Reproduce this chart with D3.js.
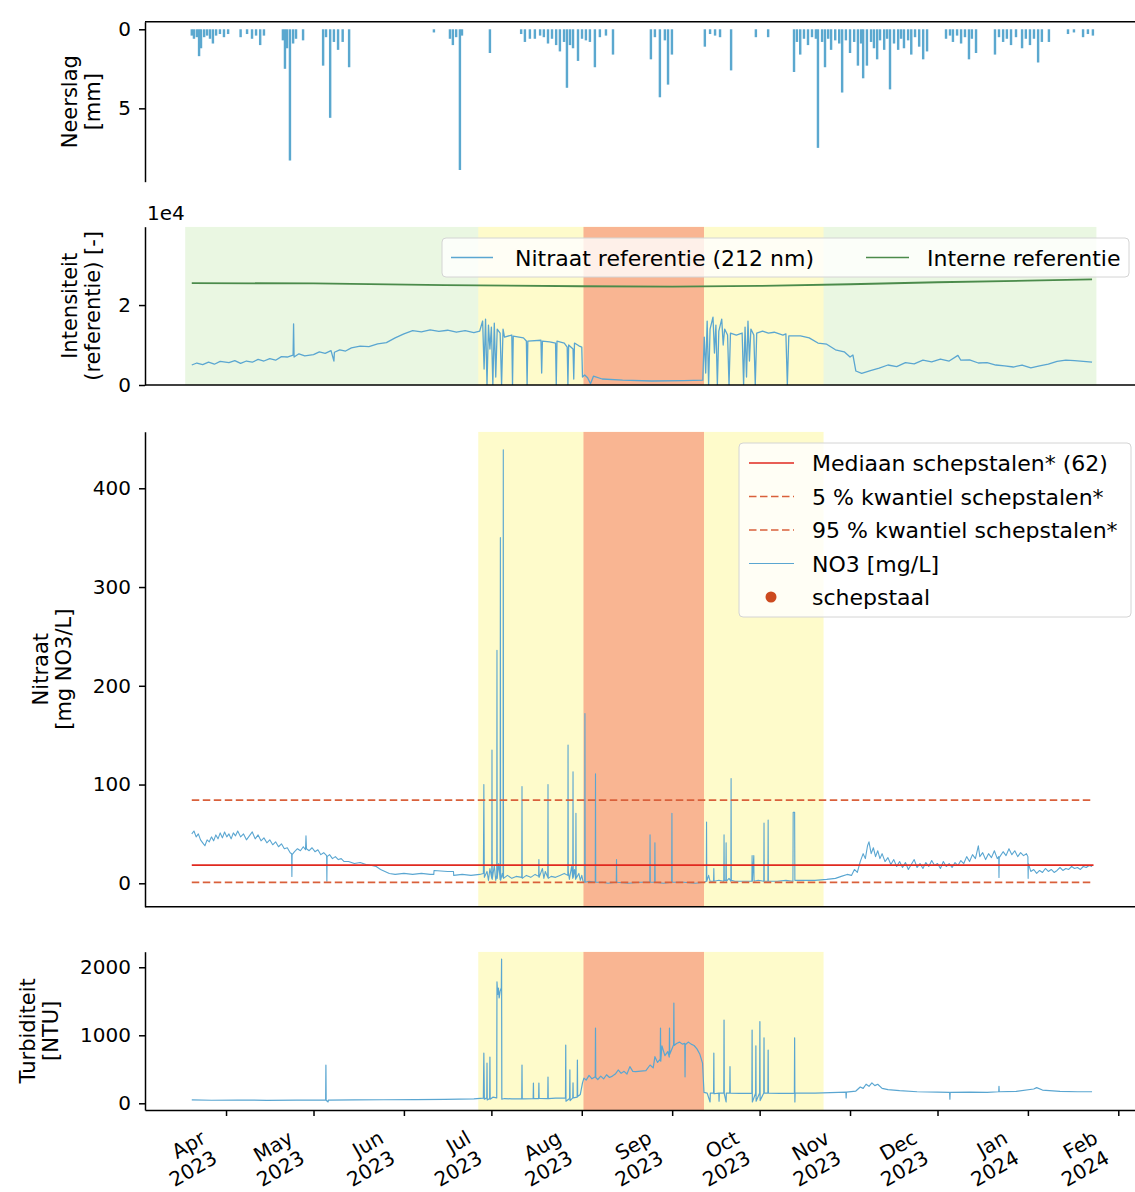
<!DOCTYPE html>
<html><head><meta charset="utf-8">
<script src="https://cdn.jsdelivr.net/npm/d3@7"></script>
<style>body{margin:0;background:#fff} svg text{font-family:"DejaVu Sans",sans-serif;fill:#000}</style>
</head><body><svg id="c" width="1135" height="1192"></svg>
<script>
// ---------------- DATA ----------------
const precipitation = [
["2023-03-20 06",0.4],["2023-03-21 00",0.6],["2023-03-22 00",0.5],["2023-03-22 18",1.7],["2023-03-23 10",1.2],["2023-03-24 12",0.5],["2023-03-25 12",0.4],["2023-03-26 12",0.6],["2023-03-27 12",0.9],["2023-03-28 14",0.4],["2023-03-29 22",0.3],["2023-03-31 07",0.5],["2023-04-01 17",0.3],
["2023-04-06 00",0.5],["2023-04-08 05",0.3],["2023-04-09 22",0.6],["2023-04-11 07",0.4],["2023-04-12 17",1.0],["2023-04-14 00",0.4],
["2023-04-20 12",0.7],["2023-04-21 05",2.5],["2023-04-21 22",1.2],["2023-04-22 22",8.3],["2023-04-24 00",0.9],["2023-04-25 00",0.6],["2023-04-27 10",0.7],
["2023-05-04 07",2.3],["2023-05-05 07",0.5],["2023-05-06 17",5.6],["2023-05-08 00",0.8],["2023-05-09 10",1.3],["2023-05-11 00",0.8],["2023-05-13 05",2.4],
["2023-06-11 07",0.2],["2023-06-16 19",0.6],["2023-06-17 19",1.0],["2023-06-18 22",0.5],["2023-06-20 05",8.9],["2023-06-20 22",0.4],["2023-06-30 12",1.5],
["2023-07-11 05",0.3],["2023-07-12 12",0.8],["2023-07-14 05",0.6],["2023-07-15 22",0.6],["2023-07-17 17",0.4],["2023-07-19 00",0.5],["2023-07-20 10",0.9],["2023-07-21 19",0.6],["2023-07-23 05",1.0],["2023-07-24 12",1.4],["2023-07-25 22",0.8],["2023-07-26 22",3.7],["2023-07-27 23",1.0],["2023-07-29 00",1.2],["2023-07-30 17",2.0],
["2023-08-01 02",0.6],["2023-08-02 10",0.7],["2023-08-03 19",0.8],["2023-08-05 12",2.4],["2023-08-07 05",0.5],["2023-08-09 07",0.4],["2023-08-11 17",1.6],
["2023-08-24 17",1.9],["2023-08-26 02",0.5],["2023-08-27 19",4.3],["2023-08-29 12",0.7],["2023-08-30 14",3.5],["2023-08-31 22",1.6],
["2023-09-12 05",1.1],["2023-09-14 00",0.3],["2023-09-15 17",0.4],["2023-09-17 10",0.5],["2023-09-21 05",2.6],["2023-09-29 17",0.5],["2023-10-03 22",0.5],
["2023-10-12 19",2.7],["2023-10-13 19",0.8],["2023-10-14 22",1.6],["2023-10-16 05",0.6],["2023-10-17 14",1.0],["2023-10-18 23",0.5],["2023-10-20 07",0.6],["2023-10-21 00",7.5],["2023-10-22 10",0.8],["2023-10-23 10",2.4],["2023-10-24 12",0.6],["2023-10-25 12",1.3],["2023-10-26 22",0.7],["2023-10-28 07",0.9],["2023-10-29 07",4.0],["2023-10-30 14",0.7],
["2023-11-01 00",1.5],["2023-11-02 10",0.8],["2023-11-03 17",2.3],["2023-11-04 19",0.9],["2023-11-05 12",3.1],["2023-11-06 19",2.3],["2023-11-08 05",0.8],["2023-11-09 05",1.2],["2023-11-10 07",1.9],["2023-11-11 07",0.7],["2023-11-12 17",1.3],["2023-11-13 17",0.6],["2023-11-14 17",3.8],["2023-11-16 02",0.9],["2023-11-17 12",1.3],["2023-11-18 12",0.6],["2023-11-19 12",1.2],["2023-11-20 22",0.7],["2023-11-22 00",1.6],["2023-11-23 07",0.5],["2023-11-24 17",1.1],["2023-11-26 02",1.9],["2023-11-27 10",1.4],
["2023-12-03 22",0.6],["2023-12-05 07",0.4],["2023-12-06 07",0.8],["2023-12-07 17",0.4],["2023-12-09 02",0.9],["2023-12-10 10",0.5],["2023-12-11 19",1.9],["2023-12-12 19",0.6],["2023-12-14 05",1.5],
["2023-12-20 17",1.6],["2023-12-22 02",0.5],["2023-12-23 12",0.8],["2023-12-24 19",0.6],["2023-12-26 05",1.0],["2023-12-27 22",0.5],["2023-12-30 00",1.2],["2023-12-31 07",0.6],["2024-01-01 17",1.0],["2024-01-03 02",0.6],["2024-01-04 12",2.1],["2024-01-05 19",0.8],["2024-01-08 05",0.8],
["2024-01-14 18",0.3],["2024-01-16 19",0.2],["2024-01-19 22",0.5],["2024-01-21 14",0.3],["2024-01-23 07",0.4]
];

const intensityNitrateRef = [
["2023-03-20 06",5000],["2023-03-22 00",5500],["2023-03-24 00",5100],["2023-03-26 00",5700],["2023-03-28 00",5200],["2023-03-30 00",5900],["2023-04-02 00",5600],["2023-04-04 00",6100],["2023-04-06 00",5400],["2023-04-08 00",6000],["2023-04-10 00",5700],["2023-04-12 00",6400],["2023-04-14 00",6000],["2023-04-16 00",6600],["2023-04-18 00",6200],["2023-04-20 00",7100],["2023-04-22 00",7000],["2023-04-24 00",7500],["2023-04-24 04",15300],["2023-04-24 08",7000],["2023-04-26 00",7800],["2023-04-28 00",7300],["2023-05-01 00",7600],["2023-05-03 00",8300],["2023-05-05 00",7900],["2023-05-07 00",8600],["2023-05-08 00",6000],["2023-05-08 04",8200],["2023-05-10 00",8800],["2023-05-12 00",8500],["2023-05-14 00",9300],["2023-05-17 00",9700],["2023-05-20 00",9600],["2023-05-23 00",10300],["2023-05-26 00",10600],["2023-05-29 00",11800],["2023-06-01 00",12800],["2023-06-04 00",13600],["2023-06-07 00",13300],["2023-06-10 00",13800],["2023-06-13 00",13400],["2023-06-16 00",13700],["2023-06-19 00",13200],["2023-06-22 00",13600],["2023-06-25 00",13100],
["2023-06-27 00",13500],["2023-06-28 00",16000],["2023-06-28 12",4000],["2023-06-29 00",16500],["2023-06-29 12",0],["2023-06-30 00",15000],["2023-06-30 12",9000],["2023-07-01 00",14500],["2023-07-01 12",0],["2023-07-02 00",15500],["2023-07-02 12",2000],["2023-07-03 00",14000],["2023-07-04 00",13000],["2023-07-04 12",0],["2023-07-05 00",14000],["2023-07-05 12",12000],["2023-07-08 00",12500],["2023-07-08 06",0],["2023-07-08 12",12200],["2023-07-12 00",11800],["2023-07-13 00",11000],["2023-07-13 06",0],["2023-07-13 12",11000],["2023-07-18 00",11200],["2023-07-18 06",3000],["2023-07-18 12",11000],["2023-07-21 00",10800],["2023-07-23 00",10500],["2023-07-23 06",0],["2023-07-23 12",11000],["2023-07-26 00",10500],["2023-07-27 00",9500],["2023-07-27 06",0],["2023-07-27 12",10000],["2023-07-29 00",9000],["2023-07-29 06",1500],["2023-07-29 12",10500],["2023-07-31 00",9800],["2023-08-01 00",9500],["2023-08-01 06",2000],
["2023-08-02 00",2500],["2023-08-03 00",1800],["2023-08-04 00",300],["2023-08-05 00",2200],["2023-08-08 00",1500],["2023-08-15 00",1200],["2023-08-25 00",1000],["2023-09-05 00",1100],["2023-09-11 12",1200],
["2023-09-12 00",12000],["2023-09-12 12",3000],["2023-09-13 00",16000],["2023-09-13 12",0],["2023-09-14 00",14000],["2023-09-15 00",17000],["2023-09-15 12",8000],["2023-09-16 00",15000],["2023-09-16 12",0],["2023-09-17 00",13500],["2023-09-18 00",16500],["2023-09-18 12",10000],["2023-09-19 00",14000],["2023-09-20 00",12500],["2023-09-20 12",0],["2023-09-21 00",13000],["2023-09-23 00",12500],["2023-09-25 00",13000],["2023-09-25 12",0],["2023-09-26 00",14500],["2023-09-26 12",2000],["2023-09-27 00",16000],["2023-09-27 12",6000],["2023-09-28 00",14000],["2023-09-29 00",12500],["2023-09-29 12",0],["2023-09-30 00",13000],["2023-10-02 00",13500],["2023-10-04 00",13000],["2023-10-06 00",13200],["2023-10-09 00",12500],["2023-10-10 00",12800],["2023-10-10 12",0],["2023-10-11 00",12300],["2023-10-15 00",12300],["2023-10-18 00",11800],["2023-10-21 00",10500],["2023-10-24 00",10200],["2023-10-27 00",8800],["2023-10-30 00",8300],["2023-11-01 00",7000],["2023-11-02 00",7500],["2023-11-03 00",3500],["2023-11-05 00",2900],["2023-11-08 00",3600],["2023-11-11 00",4200],["2023-11-14 00",5000],["2023-11-17 00",4600],["2023-11-20 00",5600],["2023-11-23 00",5300],["2023-11-26 00",6200],["2023-11-29 00",5800],["2023-12-02 00",6500],["2023-12-05 00",6000],["2023-12-08 00",7400],["2023-12-09 00",6200],["2023-12-12 00",6300],["2023-12-15 00",5500],["2023-12-18 00",5600],["2023-12-21 00",5000],["2023-12-24 00",4800],["2023-12-27 00",4500],["2023-12-30 00",5000],["2024-01-02 00",4300],["2024-01-05 00",4800],["2024-01-08 00",5200],["2024-01-11 00",5900],["2024-01-14 00",6200],["2024-01-17 00",6100],["2024-01-20 00",5900],["2024-01-23 00",5700]
];

const intensityInternalRef = [
["2023-03-20 06",25500],["2023-05-01 00",25400],["2023-06-15 00",25000],["2023-08-01 00",24700],["2023-09-01 00",24600],["2023-10-01 00",24800],["2023-11-01 00",25200],["2023-12-01 00",25700],["2024-01-01 00",26100],["2024-01-23 00",26400]
];

const nitrate = [
["2023-03-20 06",50],["2023-03-21 00",53],["2023-03-21 18",47],["2023-03-22 12",50],["2023-03-23 06",44],["2023-03-24 00",41],["2023-03-24 18",38],["2023-03-25 12",44],["2023-03-26 06",42],["2023-03-27 00",47],["2023-03-27 18",43],["2023-03-28 12",49],["2023-03-29 06",45],["2023-03-30 00",51],["2023-03-30 18",46],["2023-03-31 12",52],["2023-04-01 06",47],["2023-04-02 00",50],["2023-04-02 18",45],["2023-04-03 12",51],["2023-04-04 06",48],["2023-04-05 00",53],["2023-04-06 00",47],["2023-04-07 00",50],["2023-04-08 00",44],["2023-04-09 00",48],["2023-04-10 00",52],["2023-04-11 00",45],["2023-04-12 00",49],["2023-04-13 00",43],["2023-04-14 00",46],["2023-04-15 00",41],["2023-04-16 00",44],["2023-04-17 00",39],["2023-04-18 00",42],["2023-04-19 00",37],["2023-04-20 00",40],["2023-04-21 00",35],["2023-04-22 00",36],["2023-04-23 00",31],["2023-04-23 12",30],["2023-04-23 14",7],["2023-04-23 16",29],["2023-04-24 12",32],["2023-04-25 12",35],["2023-04-26 12",33],["2023-04-27 12",37],["2023-04-28 06",34],["2023-04-28 10",48],["2023-04-28 14",35],["2023-04-29 12",33],["2023-04-30 12",36],["2023-05-01 12",32],["2023-05-02 12",34],["2023-05-03 12",29],["2023-05-04 12",31],["2023-05-05 12",28],["2023-05-05 14",2],["2023-05-05 16",27],["2023-05-06 12",29],["2023-05-07 12",25],["2023-05-08 12",27],["2023-05-09 12",24],["2023-05-10 12",25],["2023-05-11 12",22],["2023-05-13 00",22],["2023-05-15 00",20],["2023-05-17 00",21],["2023-05-19 00",19],["2023-05-21 00",18],["2023-05-22 12",17],["2023-05-24 00",14],["2023-05-25 12",12],["2023-05-27 00",10],["2023-05-29 00",9],["2023-06-01 00",10],["2023-06-04 00",9],["2023-06-07 00",10],["2023-06-10 00",9],["2023-06-11 06",9],["2023-06-11 08",13],["2023-06-16 00",12],["2023-06-18 00",12],["2023-06-18 02",8],["2023-06-21 00",9],["2023-06-24 00",8],["2023-06-27 00",9],
["2023-06-28 06",10],["2023-06-28 10",100],["2023-06-28 14",6],["2023-06-29 12",12],["2023-06-30 00",3],["2023-06-30 12",15],["2023-07-01 03",5],["2023-07-01 05",135],["2023-07-01 07",4],["2023-07-02 00",18],["2023-07-02 12",3],["2023-07-02 20",8],["2023-07-02 22",236],["2023-07-03 00",5],["2023-07-03 12",20],["2023-07-04 00",4],["2023-07-04 02",350],["2023-07-04 04",3],["2023-07-04 18",10],["2023-07-05 00",6],["2023-07-05 02",439],["2023-07-05 04",5],["2023-07-06 12",8],["2023-07-08 00",5],["2023-07-09 12",7],["2023-07-11 10",6],["2023-07-11 12",98],["2023-07-11 14",5],["2023-07-13 00",8],["2023-07-14 12",6],["2023-07-16 00",9],["2023-07-17 05",7],["2023-07-17 07",24],["2023-07-17 09",6],["2023-07-18 12",15],["2023-07-19 00",5],["2023-07-19 12",12],["2023-07-20 08",6],["2023-07-20 10",100],["2023-07-20 12",5],["2023-07-21 12",7],["2023-07-23 00",6],["2023-07-24 12",8],["2023-07-26 00",10],["2023-07-27 05",8],["2023-07-27 07",140],["2023-07-27 09",12],["2023-07-27 18",4],["2023-07-28 12",17],["2023-07-28 22",5],["2023-07-29 00",113],["2023-07-29 02",6],["2023-07-29 12",14],["2023-07-29 22",4],["2023-07-30 00",71],["2023-07-30 02",5],["2023-07-31 00",10],["2023-07-31 12",3],["2023-08-01 00",8],
["2023-08-01 12",1],["2023-08-02 00",1],["2023-08-02 02",172],["2023-08-02 04",1],["2023-08-03 12",2],["2023-08-05 15",1],["2023-08-05 17",111],["2023-08-05 19",1],["2023-08-08 00",1],["2023-08-10 00",0],["2023-08-12 20",1],["2023-08-12 22",24],["2023-08-13 00",1],["2023-08-17 00",0],["2023-08-21 00",1],["2023-08-24 08",1],["2023-08-24 10",49],["2023-08-24 12",1],["2023-08-26 00",1],["2023-08-26 02",41],["2023-08-26 04",1],["2023-08-29 00",0],["2023-08-31 20",1],["2023-08-31 22",71],["2023-09-01 00",1],["2023-09-05 00",1],["2023-09-09 00",0],["2023-09-12 00",1],
["2023-09-12 17",2],["2023-09-12 19",62],["2023-09-12 21",2],["2023-09-13 12",8],["2023-09-14 00",2],["2023-09-15 05",2],["2023-09-15 07",15],["2023-09-15 09",2],["2023-09-17 00",3],["2023-09-18 17",2],["2023-09-18 19",49],["2023-09-18 21",3],["2023-09-19 10",3],["2023-09-19 12",41],["2023-09-19 14",2],["2023-09-20 12",5],["2023-09-21 03",2],["2023-09-21 05",106],["2023-09-21 07",3],["2023-09-22 12",2],["2023-09-25 00",2],["2023-09-28 08",2],["2023-09-28 10",28],["2023-09-28 12",2],["2023-09-29 00",28],["2023-09-29 02",2],["2023-09-30 12",3],["2023-10-02 10",2],["2023-10-02 12",61],["2023-10-02 14",2],["2023-10-03 20",2],["2023-10-03 22",64],["2023-10-04 00",2],["2023-10-07 00",2],["2023-10-10 00",3],["2023-10-12 10",2],["2023-10-12 12",72],["2023-10-13 00",72],["2023-10-13 02",3],["2023-10-16 00",3],["2023-10-20 00",3],["2023-10-24 00",4],["2023-10-27 00",5],["2023-10-29 00",7],["2023-10-31 00",9],["2023-11-01 12",8],["2023-11-02 12",14],["2023-11-03 12",11],["2023-11-04 12",22],["2023-11-05 12",30],["2023-11-06 06",25],["2023-11-07 00",38],["2023-11-07 12",42],["2023-11-08 06",30],["2023-11-09 00",36],["2023-11-09 18",27],["2023-11-10 12",33],["2023-11-11 06",25],["2023-11-12 00",30],["2023-11-13 00",22],["2023-11-14 00",26],["2023-11-15 00",19],["2023-11-16 00",24],["2023-11-17 00",17],["2023-11-18 00",22],["2023-11-19 00",16],["2023-11-20 00",21],["2023-11-21 00",14],["2023-11-22 00",19],["2023-11-23 00",24],["2023-11-24 00",16],["2023-11-25 00",20],["2023-11-26 00",15],["2023-11-27 00",21],["2023-11-28 00",17],["2023-11-29 00",23],["2023-11-30 00",18],["2023-12-01 00",20],["2023-12-02 00",15],["2023-12-03 00",22],["2023-12-04 00",17],["2023-12-05 00",20],["2023-12-06 00",16],["2023-12-07 00",21],["2023-12-08 00",18],["2023-12-09 00",23],["2023-12-10 00",20],["2023-12-11 00",27],["2023-12-12 00",22],["2023-12-13 00",29],["2023-12-14 00",25],["2023-12-15 00",38],["2023-12-15 12",27],["2023-12-16 12",31],["2023-12-17 12",24],["2023-12-18 12",30],["2023-12-19 12",26],["2023-12-20 12",33],["2023-12-21 12",25],["2023-12-22 00",27],["2023-12-22 02",6],["2023-12-22 04",26],["2023-12-23 12",32],["2023-12-24 12",28],["2023-12-25 12",35],["2023-12-26 12",29],["2023-12-27 12",33],["2023-12-28 12",27],["2023-12-29 12",31],["2023-12-30 12",28],["2023-12-31 12",30],["2024-01-01 00",27],["2024-01-01 02",5],["2024-01-01 04",20],["2024-01-02 00",12],["2024-01-03 00",14],["2024-01-04 00",10],["2024-01-05 00",13],["2024-01-06 00",11],["2024-01-07 00",15],["2024-01-08 00",12],["2024-01-09 00",14],["2024-01-10 00",11],["2024-01-11 00",13],["2024-01-12 00",16],["2024-01-13 00",13],["2024-01-14 00",15],["2024-01-15 00",14],["2024-01-16 00",17],["2024-01-17 00",15],["2024-01-18 00",16],["2024-01-19 00",14],["2024-01-20 00",17],["2024-01-21 00",16],["2024-01-22 00",18],["2024-01-23 00",17]
];

const turbidity = [
["2023-03-20 06",50],["2023-03-27 00",45],["2023-04-05 00",48],["2023-04-15 00",44],["2023-04-25 00",47],["2023-05-05 04",46],["2023-05-05 06",560],["2023-05-05 08",45],["2023-05-06 00",20],["2023-05-06 02",48],["2023-05-15 00",50],["2023-05-25 00",52],["2023-06-05 00",55],["2023-06-15 00",58],["2023-06-25 00",65],
["2023-06-28 06",75],["2023-06-28 10",737],["2023-06-28 14",60],["2023-06-29 10",80],["2023-06-29 12",590],["2023-06-29 14",50],["2023-06-30 10",70],["2023-06-30 12",680],["2023-06-30 14",60],["2023-07-01 12",90],["2023-07-02 20",80],["2023-07-02 22",1785],["2023-07-03 04",1600],["2023-07-03 10",1695],["2023-07-03 16",1550],["2023-07-04 00",1650],["2023-07-04 10",1700],["2023-07-04 12",2120],["2023-07-04 14",60],["2023-07-05 12",70],["2023-07-08 00",65],["2023-07-11 10",70],["2023-07-11 12",563],["2023-07-11 14",65],["2023-07-15 08",70],["2023-07-15 10",298],["2023-07-15 12",68],["2023-07-17 05",70],["2023-07-17 07",298],["2023-07-17 09",72],["2023-07-20 08",70],["2023-07-20 10",387],["2023-07-20 12",70],["2023-07-23 00",75],["2023-07-26 10",75],["2023-07-26 12",857],["2023-07-26 14",30],["2023-07-27 20",70],["2023-07-27 22",490],["2023-07-28 00",40],["2023-07-28 22",80],["2023-07-29 00",300],["2023-07-29 02",80],["2023-07-30 10",90],["2023-07-30 12",637],["2023-07-30 14",100],["2023-07-31 12",130],
["2023-08-01 06",300],["2023-08-01 18",370],["2023-08-02 12",340],["2023-08-03 12",410],["2023-08-04 12",360],["2023-08-05 15",390],["2023-08-05 17",1107],["2023-08-05 19",380],["2023-08-06 12",350],["2023-08-07 12",400],["2023-08-08 12",360],["2023-08-09 12",420],["2023-08-10 12",380],["2023-08-11 12",400],["2023-08-12 12",430],["2023-08-13 12",490],["2023-08-14 12",440],["2023-08-15 12",470],["2023-08-16 12",430],["2023-08-17 12",539],["2023-08-18 12",470],["2023-08-19 12",465],
["2023-08-23 00",480],["2023-08-24 10",563],["2023-08-25 12",520],["2023-08-26 02",686],["2023-08-27 00",600],["2023-08-27 22",650],["2023-08-28 00",1107],["2023-08-28 02",620],["2023-08-28 12",845],["2023-08-29 12",700],["2023-08-30 12",760],["2023-08-31 00",680],["2023-08-31 02",1107],["2023-08-31 04",720],["2023-09-01 12",860],["2023-09-01 14",1475],["2023-09-01 16",850],["2023-09-02 12",880],["2023-09-03 12",900],["2023-09-04 12",870],["2023-09-05 08",880],["2023-09-05 10",390],["2023-09-05 12",860],["2023-09-06 12",900],["2023-09-07 12",870],["2023-09-08 12",850],["2023-09-09 12",800],["2023-09-10 12",720],["2023-09-11 10",590],["2023-09-11 22",160],
["2023-09-13 00",150],["2023-09-14 00",20],["2023-09-14 02",150],["2023-09-15 05",150],["2023-09-15 07",737],["2023-09-15 09",140],["2023-09-17 00",150],["2023-09-17 02",30],["2023-09-17 04",150],["2023-09-18 17",150],["2023-09-18 19",1225],["2023-09-18 21",140],["2023-09-19 12",20],["2023-09-19 14",150],["2023-09-20 18",150],["2023-09-20 20",539],["2023-09-20 22",150],["2023-09-24 00",145],["2023-09-28 08",150],["2023-09-28 10",1078],["2023-09-28 12",20],["2023-09-29 15",150],["2023-09-29 17",845],["2023-09-29 19",30],["2023-10-01 00",150],["2023-10-01 02",1200],["2023-10-01 04",40],["2023-10-02 10",150],["2023-10-02 12",963],["2023-10-02 14",150],["2023-10-03 20",150],["2023-10-03 22",784],["2023-10-04 00",150],["2023-10-08 00",145],["2023-10-12 22",150],["2023-10-13 00",963],["2023-10-13 02",20],["2023-10-13 04",150],["2023-10-20 00",150],["2023-10-28 00",160],["2023-10-30 14",165],["2023-10-30 16",80],["2023-10-30 18",165],["2023-11-03 00",180],["2023-11-04 12",240],["2023-11-05 12",220],["2023-11-06 12",280],["2023-11-07 12",250],["2023-11-08 12",300],["2023-11-09 12",260],["2023-11-10 12",280],["2023-11-12 00",220],["2023-11-14 00",200],["2023-11-18 00",185],["2023-11-24 00",170],["2023-12-01 00",165],["2023-12-05 04",160],["2023-12-05 06",60],["2023-12-05 08",160],["2023-12-12 00",165],["2023-12-18 00",160],["2023-12-22 00",170],["2023-12-22 02",250],["2023-12-22 04",170],["2023-12-28 00",175],["2024-01-03 00",210],["2024-01-04 00",230],["2024-01-06 00",195],["2024-01-12 00",175],["2024-01-18 00",170],["2024-01-23 00",170]
];

const nitrateMedian = 18.5, nitrateQ05 = 1.0, nitrateQ95 = 84.3;
const sampleRange = ["2023-03-20 06","2024-01-23 12"];
const greenSpan  = ["2023-03-18 00","2024-01-24 12"];
const yellowSpan = ["2023-06-26 12","2023-10-22 22"];
const orangeSpan = ["2023-08-01 14","2023-09-11 22"];

const monthTicks = ["2023-04-01","2023-05-01","2023-06-01","2023-07-01","2023-08-01","2023-09-01","2023-10-01","2023-11-01","2023-12-01","2024-01-01","2024-02-01"];
const monthNames = ["Apr","May","Jun","Jul","Aug","Sep","Oct","Nov","Dec","Jan","Feb"];
const tickYears  = ["2023","2023","2023","2023","2023","2023","2023","2023","2023","2024","2024"];
const precipTicks = [0,5], intensityTicks = [0,20000], nitrateTicks = [0,100,200,300,400], turbTicks = [0,1000,2000];
const legendIntensity = ["Nitraat referentie (212 nm)","Interne referentie"];
const legendNitrate = ["Mediaan schepstalen* (62)","5 % kwantiel schepstalen*","95 % kwantiel schepstalen*","NO3 [mg/L]","schepstaal"];

// ---------------- DRAW ----------------
const parse = s => { const p = s.split(/[- ]/); return new Date(+p[0], +p[1]-1, +p[2], p[3] ? +p[3] : 0); };
const P = a => a.map(d => [parse(d[0]), d[1]]);
const svg = d3.select("#c");
const L = 145, R = 1135;
const x = d3.scaleTime().domain([new Date(2023,2,4,5), new Date(2024,1,6,17,30)]).range([L, R]);

const panels = {
  p1: {top: 21.7, bottom: 181.7},
  p2: {top: 226.7, bottom: 385},
  p3: {top: 431.7, bottom: 906.7},
  p4: {top: 951.7, bottom: 1110}
};
const y1 = d3.scaleLinear().domain([-0.48, 9.64]).range([panels.p1.top, panels.p1.bottom]);
const y2 = d3.scaleLinear().domain([0, 39600]).range([panels.p2.bottom, panels.p2.top]);
const y3 = d3.scaleLinear().domain([-23.7, 457.3]).range([panels.p3.bottom, panels.p3.top]);
const y4 = d3.scaleLinear().domain([-98.5, 2229]).range([panels.p4.bottom, panels.p4.top]);

const defs = svg.append("defs");
Object.entries(panels).forEach(([k, p]) => {
  defs.append("clipPath").attr("id", "clip-" + k).append("rect")
    .attr("x", L).attr("y", p.top).attr("width", R - L).attr("height", p.bottom - p.top);
});
const layer = k => svg.append("g").attr("clip-path", `url(#clip-${k})`);

const COL_GREEN = "#eaf7e2", COL_YEL = "#fefbcb", COL_OR = "#f9b592";
function spans(k, withGreen) {
  const g = layer(k), p = panels[k];
  const rect = (s, fill) => g.append("rect")
    .attr("x", x(parse(s[0]))).attr("width", x(parse(s[1])) - x(parse(s[0])))
    .attr("y", p.top).attr("height", p.bottom - p.top).attr("fill", fill);
  if (withGreen) rect(greenSpan, COL_GREEN);
  rect(yellowSpan, COL_YEL);
  rect(orangeSpan, COL_OR);
}

// Panel 1: precipitation bars (hanging)
{
  const g = layer("p1");
  const bw = x(new Date(2023,5,1,20)) - x(new Date(2023,5,1,0));
  g.selectAll("rect.bar").data(P(precipitation)).join("rect")
    .attr("x", d => x(d[0]) - bw/2).attr("width", bw)
    .attr("y", y1(0)).attr("height", d => y1(d[1]) - y1(0))
    .attr("fill", "#5ba8cf");
}

// Panel 2
spans("p2", true);
{
  const g = layer("p2");
  const line = d3.line().x(d => x(d[0])).y(d => y2(d[1]));
  g.append("path").attr("d", line(P(intensityInternalRef))).attr("fill","none").attr("stroke","#4b8b4b").attr("stroke-width",1.8);
  g.append("path").attr("d", line(P(intensityNitrateRef))).attr("fill","none").attr("stroke","#5aa6d1").attr("stroke-width",1.3).attr("stroke-linejoin","round");
}

// Panel 3
spans("p3", false);
{
  const g = layer("p3");
  const line = d3.line().x(d => x(d[0])).y(d => y3(d[1]));
  g.append("path").attr("d", line(P(nitrate))).attr("fill","none").attr("stroke","#5aa6d1").attr("stroke-width",1.1).attr("stroke-linejoin","round");
  const x0 = x(parse(sampleRange[0])), x1 = x(parse(sampleRange[1]));
  const hl = (v, col, dash) => g.append("line").attr("x1", x0).attr("x2", x1).attr("y1", y3(v)).attr("y2", y3(v))
    .attr("stroke", col).attr("stroke-width", 1.7).attr("stroke-dasharray", dash);
  hl(nitrateMedian, "#e0291f", null);
  hl(nitrateQ05, "#d9603b", "7.5,3.5");
  hl(nitrateQ95, "#d9603b", "7.5,3.5");
}

// Panel 4
spans("p4", false);
{
  const g = layer("p4");
  const line = d3.line().x(d => x(d[0])).y(d => y4(d[1]));
  g.append("path").attr("d", line(P(turbidity))).attr("fill","none").attr("stroke","#5aa6d1").attr("stroke-width",1.2).attr("stroke-linejoin","round");
}

// Axes
function leftAxis(scale, ticks, fmt) {
  const g = svg.append("g").attr("transform", `translate(${L},0)`)
    .call(d3.axisLeft(scale).tickValues(ticks).tickFormat(fmt).tickSize(6).tickSizeOuter(0).tickPadding(8));
  g.attr("font-size", 20).attr("font-family", "DejaVu Sans");
  g.select(".domain").attr("stroke", "#000").attr("stroke-width", 1.5);
  g.selectAll(".tick line").attr("stroke", "#000").attr("stroke-width", 1.5);
  g.selectAll(".tick text").attr("fill", "#000");
  return g;
}
leftAxis(y1, precipTicks, d3.format("d"));
leftAxis(y2, intensityTicks, d => d3.format("d")(d / 1e4));
leftAxis(y3, nitrateTicks, d3.format("d"));
leftAxis(y4, turbTicks, d3.format("d"));

const hspine = yy => svg.append("line").attr("x1", L).attr("x2", R).attr("y1", yy).attr("y2", yy).attr("stroke", "#000").attr("stroke-width", 1.5);
hspine(panels.p1.top); hspine(panels.p2.bottom); hspine(panels.p3.bottom);

// bottom axis
{
  const g = svg.append("g").attr("transform", `translate(0,${panels.p4.bottom})`)
    .call(d3.axisBottom(x).tickValues(monthTicks.map(parse)).tickFormat("").tickSize(6).tickSizeOuter(0));
  g.select(".domain").attr("stroke", "#000").attr("stroke-width", 1.5);
  g.selectAll(".tick line").attr("stroke", "#000").attr("stroke-width", 1.5);
  monthTicks.forEach((m, i) => {
    const tx = x(parse(m));
    const t = svg.append("g").attr("transform", `translate(${tx - 19},1142) rotate(-30)`);
    t.append("text").attr("text-anchor", "end").attr("font-size", 20).text(monthNames[i]);
    t.append("text").attr("text-anchor", "end").attr("font-size", 20).attr("y", 23).text(tickYears[i]);
  });
}

// offset text
svg.append("text").attr("x", 147).attr("y", 220).attr("font-size", 20).text("1e4");

// y labels
function ylabel(lines, cy, x2) {
  lines.forEach((s, i) => {
    const xx = x2 - (lines.length - 1 - i) * 23;
    svg.append("text").attr("transform", `translate(${xx},${cy}) rotate(-90)`)
      .attr("text-anchor", "middle").attr("font-size", 21).text(s);
  });
}
ylabel(["Neerslag", "[mm]"], (panels.p1.top + panels.p1.bottom) / 2, 100);
ylabel(["Intensiteit", "(referentie) [-]"], (panels.p2.top + panels.p2.bottom) / 2, 100);
ylabel(["Nitraat", "[mg NO3/L]"], (panels.p3.top + panels.p3.bottom) / 2, 71);
ylabel(["Turbiditeit", "[NTU]"], (panels.p4.top + panels.p4.bottom) / 2, 58);

// Legend panel 2
{
  const g = svg.append("g");
  g.append("rect").attr("x", 442).attr("y", 238).attr("width", 687).attr("height", 39).attr("rx", 4)
    .attr("fill", "#fff").attr("fill-opacity", 0.8).attr("stroke", "#d4d4d4").attr("stroke-width", 1);
  const cy = 257.5;
  g.append("line").attr("x1", 451).attr("x2", 493).attr("y1", cy).attr("y2", cy).attr("stroke", "#5aa6d1").attr("stroke-width", 1.3);
  g.append("text").attr("x", 515).attr("y", cy + 8).attr("font-size", 22).text(legendIntensity[0]);
  g.append("line").attr("x1", 866).attr("x2", 909).attr("y1", cy).attr("y2", cy).attr("stroke", "#4b8b4b").attr("stroke-width", 1.3);
  g.append("text").attr("x", 927).attr("y", cy + 8).attr("font-size", 22).text(legendIntensity[1]);
}
// Legend panel 3
{
  const g = svg.append("g");
  g.append("rect").attr("x", 739).attr("y", 443).attr("width", 392).attr("height", 174).attr("rx", 4)
    .attr("fill", "#fff").attr("fill-opacity", 0.8).attr("stroke", "#d4d4d4").attr("stroke-width", 1);
  const styles = [
    {c: "#e0291f", d: null, w: 1.7},
    {c: "#d9603b", d: "7.5,3.5", w: 1.7},
    {c: "#d9603b", d: "7.5,3.5", w: 1.7},
    {c: "#5aa6d1", d: null, w: 1.1},
    {dot: "#cc4a1f"}
  ];
  legendNitrate.forEach((s, i) => {
    const cy = 463 + i * 33.5;
    const st = styles[i];
    if (st.dot) g.append("circle").attr("cx", 771).attr("cy", cy).attr("r", 5.5).attr("fill", st.dot);
    else g.append("line").attr("x1", 749).attr("x2", 794).attr("y1", cy).attr("y2", cy)
      .attr("stroke", st.c).attr("stroke-width", st.w).attr("stroke-dasharray", st.d);
    g.append("text").attr("x", 812).attr("y", cy + 8).attr("font-size", 22).text(s);
  });
}
</script></body></html>
